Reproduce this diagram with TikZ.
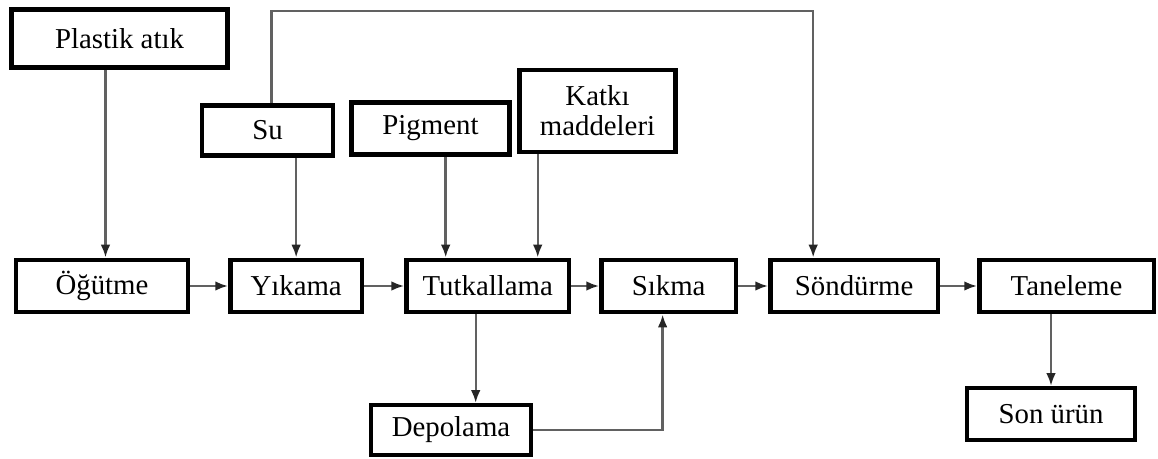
\documentclass[tikz,border=0pt]{standalone}
\usepackage{fontspec}
\setmainfont{Liberation Serif}
\usepackage{tikz}
\usetikzlibrary{arrows.meta, positioning, calc}

\begin{document}
\begin{tikzpicture}[
        x=0.025cm, y=-0.025cm,
        node distance=1cm,
        box/.style={rectangle, draw, line width=3.2pt, minimum height=1.31cm, inner sep=2pt,
            font=\fontsize{20.5}{21.5}\selectfont, align=center},
        flow/.style={draw=black!62, line width=1.7pt, -{Latex[length=3.2mm, width=2.4mm, color=black!85]}}
    ]
        \useasboundingbox (0,0) rectangle (1158,459);

        % main line
        \node[box, minimum width=4.29cm] (ogutme) at (102,286) {Öğütme};
        \node[box, minimum width=3.29cm, right=0.95cm of ogutme] (yikama) {Yıkama};
        \node[box, minimum width=4.06cm, right=1cm of yikama] (tutkal) {Tutkallama};
        \node[box, minimum width=3.36cm, right=0.7cm of tutkal] (sikma) {Sıkma};
        \node[box, minimum width=4.19cm, right=0.75cm of sikma] (sondurme) {Söndürme};
        \node[box, minimum width=4.36cm, right=0.92cm of sondurme] (taneleme) {Taneleme};

        % inputs
        \node[box, minimum width=5.41cm, minimum height=1.46cm] (plastik) at (119.5,38.5) {Plastik atık};
        \node[box, minimum width=3.27cm, minimum height=1.26cm] (su) at (267.5,130.5) {Su};
        \node[box, minimum width=3.96cm] (pigment) at (430.5,128.5) {Pigment};
        \node[box, minimum width=3.91cm, minimum height=2.04cm] (katki) at (597.5,111) {Katkı\\maddeleri};

        % outputs
        \node[box, minimum width=3.99cm, minimum height=1.24cm] (depolama) at (451,430) {Depolama};
        \node[box, minimum width=4.19cm, minimum height=1.29cm] (sonurun) at (1051,414) {Son ürün};

        % flows along the line
        \draw[flow] (ogutme) -- (yikama);
        \draw[flow] (yikama) -- (tutkal);
        \draw[flow] (tutkal) -- (sikma);
        \draw[flow] (sikma) -- (sondurme);
        \draw[flow] (sondurme) -- (taneleme);

        % feeds
        \draw[flow] ([xshift=-0.35cm]plastik.south) -- ([xshift=-0.35cm]plastik.south |- ogutme.north);
        \draw[flow] (su.south -| yikama.north) -- (yikama.north);
        \coordinate (topline) at (0,11);
        \coordinate (drop) at ([xshift=-1.025cm]sondurme.north);
        \draw[flow] ([xshift=0.1cm]su.north) |- (topline -| drop) -- (drop);
        \draw[flow] ([xshift=-1.05cm]tutkal.north |- pigment.south) -- ([xshift=-1.05cm]tutkal.north);
        \draw[flow] ([xshift=1.25cm]tutkal.north |- katki.south) -- ([xshift=1.25cm]tutkal.north);

        % storage and product
        \draw[flow] ([xshift=-0.3cm]tutkal.south) -- ([xshift=-0.3cm]tutkal.south |- depolama.north);
        \draw[flow] (depolama.east) -| ([xshift=-0.15cm]sikma.south);
        \draw[flow] (taneleme.south -| sonurun.north) -- (sonurun.north);

    \end{tikzpicture}
\end{document}
